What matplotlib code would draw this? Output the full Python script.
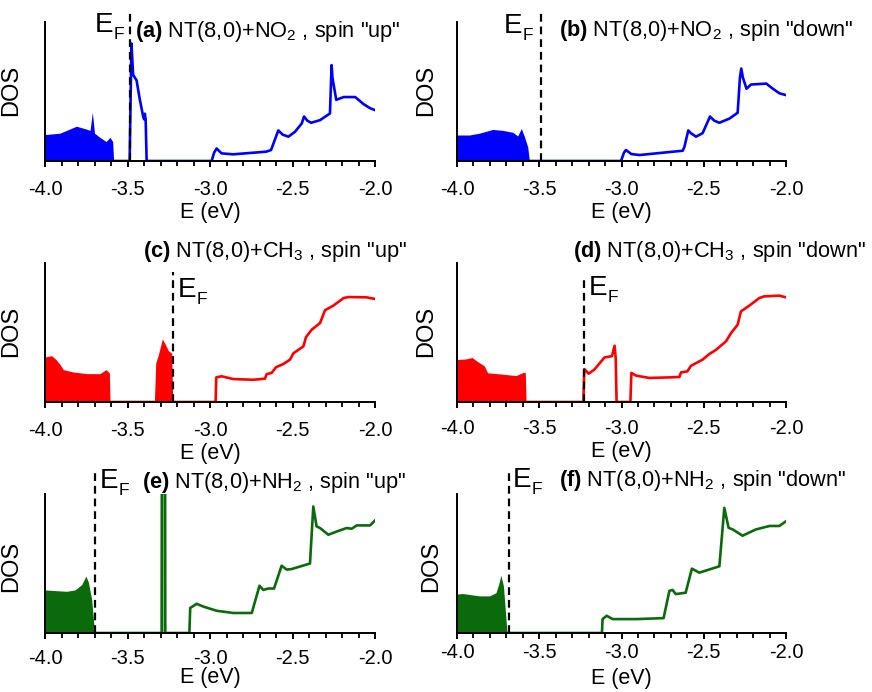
import numpy as np
import matplotlib
matplotlib.use("Agg")
import matplotlib.pyplot as plt
from matplotlib.ticker import MultipleLocator

plt.rcParams['font.family'] = ['Liberation Sans', 'DejaVu Sans']
plt.rcParams['mathtext.fontset'] = 'custom'
plt.rcParams['mathtext.rm'] = 'Liberation Sans'
plt.rcParams['mathtext.it'] = 'Liberation Sans:italic'
plt.rcParams['mathtext.bf'] = 'Liberation Sans:bold'

# --- data (DOS in arbitrary units) ---
a_fill_e = [-4.0, -3.91, -3.81, -3.75, -3.727, -3.713, -3.70, -3.667, -3.63, -3.606, -3.59, -3.584]
a_fill_dos = [0.19, 0.20, 0.25, 0.23, 0.22, 0.35, 0.20, 0.17, 0.14, 0.17, 0.14, 0.0]
a_line_e = [-3.584, -3.487, -3.476, -3.466, -3.445, -3.425, -3.405, -3.399, -3.395, -3.390, -3.384,
            -2.99, -2.975, -2.96, -2.93, -2.86, -2.66, -2.63, -2.586, -2.56, -2.525, -2.485, -2.444,
            -2.43, -2.41, -2.387, -2.333, -2.273, -2.263, -2.258, -2.235, -2.19, -2.12, -2.07, -2.03, -2.0]
a_line_dos = [0, 0, 0.845, 0.62, 0.58, 0.44, 0.32, 0.30, 0.34, 0.30, 0,
              0, 0.06, 0.09, 0.055, 0.048, 0.067, 0.079, 0.22, 0.19, 0.175, 0.21, 0.27,
              0.32, 0.29, 0.275, 0.294, 0.342, 0.69, 0.60, 0.44, 0.46, 0.46, 0.41, 0.38, 0.366]

b_fill_e = [-4.0, -3.925, -3.864, -3.783, -3.72, -3.66, -3.631, -3.609, -3.59, -3.57, -3.56]
b_fill_dos = [0.187, 0.187, 0.2, 0.227, 0.22, 0.206, 0.18, 0.234, 0.175, 0.10, 0.0]
b_line_e = [-3.56, -3.003, -2.985, -2.973, -2.94, -2.89, -2.628, -2.618, -2.594, -2.578, -2.547,
            -2.507, -2.462, -2.436, -2.405, -2.344, -2.294, -2.28, -2.272, -2.262, -2.24, -2.213,
            -2.12, -2.08, -2.04, -2.0]
b_line_dos = [0, 0, 0.06, 0.079, 0.05, 0.043, 0.074, 0.10, 0.22, 0.20, 0.175,
              0.20, 0.32, 0.29, 0.275, 0.305, 0.347, 0.60, 0.665, 0.60, 0.52, 0.55,
              0.557, 0.52, 0.487, 0.474]

c_fill_e = [-4.0, -3.96, -3.933, -3.909, -3.889, -3.83, -3.747, -3.667, -3.63, -3.61, -3.606,
            -3.337, -3.329, -3.313, -3.289, -3.273, -3.253, -3.232, -3.226]
c_fill_dos = [0.324, 0.333, 0.305, 0.27, 0.233, 0.216, 0.204, 0.204, 0.233, 0.209, 0.0,
              0.0, 0.28, 0.34, 0.453, 0.42, 0.37, 0.35, 0.0]
c_line_e = [-3.606, -2.966, -2.962, -2.93, -2.859, -2.737, -2.667, -2.657, -2.626, -2.6, -2.556,
            -2.515, -2.495, -2.434, -2.418, -2.384, -2.333, -2.303, -2.253, -2.19, -2.162, -2.051, -2.0]
c_line_dos = [0, 0, 0.177, 0.185, 0.165, 0.16, 0.168, 0.2, 0.21, 0.25, 0.273,
              0.305, 0.35, 0.40, 0.467, 0.52, 0.568, 0.66, 0.693, 0.748, 0.755, 0.753, 0.741]

d_fill_e = [-4.0, -3.945, -3.909, -3.874, -3.834, -3.814, -3.722, -3.641, -3.597, -3.585, -3.58]
d_fill_dos = [0.305, 0.31, 0.32, 0.29, 0.26, 0.21, 0.2, 0.19, 0.213, 0.213, 0.0]
d_line_e = [-3.58, -3.232, -3.226, -3.2, -3.165, -3.125, -3.104, -3.058, -3.042, -3.035, -3.03,
            -2.946, -2.94, -2.912, -2.831, -2.709, -2.648, -2.638, -2.6, -2.578, -2.507, -2.466,
            -2.426, -2.365, -2.334, -2.294, -2.274, -2.223, -2.162, -2.132, -2.04, -2.0]
d_line_dos = [0, 0, 0.237, 0.204, 0.233, 0.29, 0.32, 0.33, 0.405, 0.31, 0,
              0, 0.209, 0.19, 0.173, 0.177, 0.18, 0.213, 0.22, 0.26, 0.305, 0.345,
              0.375, 0.436, 0.496, 0.556, 0.652, 0.693, 0.748, 0.76, 0.765, 0.753]

e_fill_e = [-4.0, -3.94, -3.869, -3.818, -3.778, -3.752, -3.737, -3.717, -3.703, -3.693]
e_fill_dos = [0.31, 0.305, 0.30, 0.31, 0.348, 0.41, 0.365, 0.24, 0.048, 0.0]
e_line_e = [-3.693, -3.293, -3.291, -3.273, -3.271, -3.125, -3.12, -3.081, -3.04, -2.96, -2.859,
            -2.747, -2.7, -2.677, -2.646, -2.612, -2.566, -2.535, -2.505, -2.394, -2.374, -2.354,
            -2.333, -2.283, -2.232, -2.172, -2.141, -2.111, -2.03, -2.0]
e_line_dos = [0, 0, 2.0, 2.0, 0, 0, 0.18, 0.21, 0.19, 0.16, 0.144,
              0.144, 0.34, 0.31, 0.32, 0.32, 0.484, 0.456, 0.46, 0.50, 0.91, 0.767,
              0.755, 0.707, 0.73, 0.755, 0.75, 0.774, 0.774, 0.81]

f_fill_e = [-4.0, -3.966, -3.864, -3.803, -3.763, -3.747, -3.733, -3.718, -3.702, -3.696]
f_fill_dos = [0.28, 0.284, 0.267, 0.267, 0.29, 0.35, 0.415, 0.34, 0.10, 0.0]
f_line_e = [-3.696, -3.119, -3.115, -3.09, -3.054, -2.912, -2.744, -2.709, -2.69, -2.67, -2.61,
            -2.572, -2.527, -2.405, -2.375, -2.349, -2.324, -2.264, -2.183, -2.1, -2.04, -2.0]
f_line_dos = [0, 0, 0.10, 0.124, 0.10, 0.10, 0.107, 0.303, 0.31, 0.28, 0.29,
              0.463, 0.434, 0.48, 0.90, 0.757, 0.745, 0.70, 0.745, 0.77, 0.77, 0.804]

fermi = [-3.485, -3.49, -3.226, -3.228, -3.70, -3.685]

titles = [r'$\mathbf{(a)}$ NT(8,0)+NO$_2$ , spin "up"',
          r'$\mathbf{(b)}$ NT(8,0)+NO$_2$ , spin "down"',
          r'$\mathbf{(c)}$ NT(8,0)+CH$_3$ , spin "up"',
          r'$\mathbf{(d)}$ NT(8,0)+CH$_3$ , spin "down"',
          r'$\mathbf{(e)}$ NT(8,0)+NH$_2$ , spin "up"',
          r'$\mathbf{(f)}$ NT(8,0)+NH$_2$ , spin "down"']

colors = ['#0000ff', '#0000ff', '#ff0000', '#ff0000', '#0b6a0b', '#0b6a0b']

fills = [(a_fill_e, a_fill_dos), (b_fill_e, b_fill_dos), (c_fill_e, c_fill_dos),
         (d_fill_e, d_fill_dos), (e_fill_e, e_fill_dos), (f_fill_e, f_fill_dos)]
lines = [(a_line_e, a_line_dos), (b_line_e, b_line_dos), (c_line_e, c_line_dos),
         (d_line_e, d_line_dos), (e_line_e, e_line_dos), (f_line_e, f_line_dos)]

# --- layout (figure pixels 872 x 692) ---
W, H = 872, 692
col_x = [(45, 330), (457, 329)]
row_y = [(22, 161), (263, 402), (494, 633)]
title_pos = [(0.273, 0.894), (0.31, 0.90), (0.297, 1.045), (0.353, 1.045), (0.294, 1.041), (0.31, 1.055)]
ef_label = [(-3.697, 0.93), (-3.714, 0.92), (-3.194, 0.758),
            (-3.198, 0.77), (-3.667, 1.04), (-3.66, 1.05)]
dash_top = [1.065, 1.065, 0.935, 0.91, 1.16, 1.16]
tick_pad = [9, 9, 9, 8, 7, 3]
label_pad = [2, 2, 2, 2, -1, 4]
ylab_x = [-0.07, -0.06, -0.07, -0.06, -0.07, -0.045]
ylab_y = [0.51, 0.51, 0.51, 0.51, 0.48, 0.48]

fig = plt.figure(figsize=(W / 100, H / 100), dpi=100)

for i in range(6):
    x0, w = col_x[i % 2]
    top, bot = row_y[i // 2]
    ax = fig.add_axes([x0 / W, 1 - bot / H, w / W, (bot - top) / H])
    c = colors[i]

    fe, fd = fills[i]
    ax.fill_between(fe, fd, 0, color=c, lw=0)
    le, ld = lines[i]
    ax.plot(le, ld, color=c, lw=1.9)
    ld_arr = np.array(ld)
    if ld_arr.max() > 1:
        # thin tall peak drawn with a lighter inside
        ax.fill_between(le, ld, 0, where=ld_arr > 1, color=c, alpha=0.45, lw=0)

    ax.plot([fermi[i], fermi[i]], [0, dash_top[i]], color='black', lw=1.6,
            dashes=(3.5, 2.2), transform=ax.get_xaxis_transform(), clip_on=False)

    ax.set_xlim(-4.0, -2.0)
    ax.set_ylim(0, 1)
    ax.spines['top'].set_visible(False)
    ax.spines['right'].set_visible(False)
    ax.spines['left'].set_linewidth(1.4)
    ax.spines['bottom'].set_linewidth(1.4)
    ax.set_yticks([])
    ax.xaxis.set_major_locator(MultipleLocator(0.5))
    ax.xaxis.set_minor_locator(MultipleLocator(0.1))
    ax.xaxis.set_major_formatter(plt.FuncFormatter(lambda v, p: '%.1f' % v))
    ax.tick_params(axis='x', which='major', direction='out', length=4.5, width=1.4,
                   labelsize=14.5, pad=tick_pad[i])
    ax.tick_params(axis='x', which='minor', direction='out', length=3.5, width=1.3)

    ax.set_xlabel('E (eV)', fontsize=15.5, labelpad=label_pad[i])
    ax.set_ylabel('DOS', fontsize=17)
    ax.yaxis.set_label_coords(ylab_x[i], ylab_y[i])

    tx, ty = title_pos[i]
    ax.text(tx, ty, titles[i], transform=ax.transAxes, fontsize=15.7, va='baseline', ha='left')

    ex, ey = ef_label[i]
    trans = ax.get_xaxis_transform()
    ax.text(ex, ey, 'E', transform=trans, fontsize=20, va='baseline', ha='left')
    ax.annotate('F', xy=(ex, ey), xycoords=trans, xytext=(13.6, -5),
                textcoords='offset points', fontsize=12.5, va='baseline', ha='left')

fig.savefig('out.png', dpi=100)
